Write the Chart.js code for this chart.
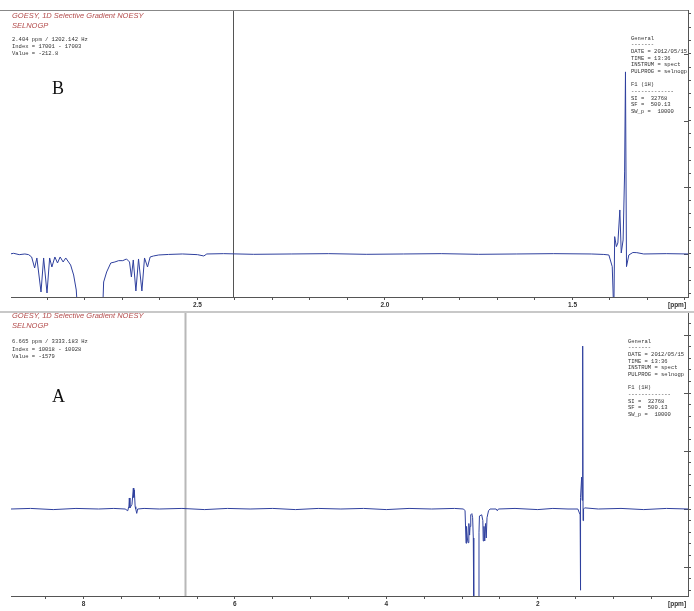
<!DOCTYPE html>
<html>
<head>
<meta charset="utf-8">
<script src="https://cdn.jsdelivr.net/npm/chart.js"></script>
<style>
body { margin: 0; background: #fff; }
#wrap { position: relative; width: 694px; height: 611px; overflow: hidden; background: #fff; }
canvas { position: absolute; left: 0; }
.t { position: absolute; white-space: pre; }
.title { left: 12px; font: italic 7.5px/10px "Liberation Sans", Arial, sans-serif; color: #b34b4b; }
.mono { font: 5.5px/6.65px "Liberation Mono", monospace; color: #333; }
.info { left: 12px; line-height: 7.3px; }
.big { font: 18px/20px "Liberation Serif", serif; color: #111; }
.ppm { font: bold 6.5px/8px "Liberation Sans", sans-serif; color: #333; }
#sep { position: absolute; left: 0; top: 311px; width: 694px; height: 2px; background: #c8c8c8; }
</style>
</head>
<body>
<div id="wrap">
  <canvas id="specB" width="694" height="312" style="top:0"></canvas>
  <div id="sep"></div>
  <canvas id="specA" width="694" height="299" style="top:312px"></canvas>

  <div class="t title" style="top:11px">GOESY, 1D Selective Gradient NOESY
SELNOGP</div>
  <div class="t mono info" style="top:35.7px">2.404 ppm / 1202.142 Hz
Index = 17001 - 17003
Value = -212.8</div>
  <div class="t big" style="left:52px;top:78px">B</div>
  <div class="t mono" style="left:631px;top:35.7px">General
-------
DATE = 2012/05/15
TIME = 13:36
INSTRUM = spect
PULPROG = selnogp

F1 (1H)
-------------
SI =  32768
SF =  500.13
SW_p =  10000</div>
  <div class="t ppm" style="left:668px;top:301px">[ppm]</div>

  <div class="t title" style="top:311px">GOESY, 1D Selective Gradient NOESY
SELNOGP</div>
  <div class="t mono info" style="top:338.4px">6.665 ppm / 3333.183 Hz
Index = 10018 - 10028
Value = -1579</div>
  <div class="t big" style="left:52px;top:386px">A</div>
  <div class="t mono" style="left:628px;top:338.7px">General
-------
DATE = 2012/05/15
TIME = 13:36
INSTRUM = spect
PULPROG = selnogp

F1 (1H)
-------------
SI =  32768
SF =  500.13
SW_p =  10000</div>
  <div class="t ppm" style="left:668px;top:600px">[ppm]</div>
</div>

<script>
// ---------- spectrum B (zoom 3.0 - 1.2 ppm) ----------
const bPpm = [3.00, 2.99, 2.975, 2.96, 2.95, 2.942, 2.934, 2.928, 2.917, 2.910, 2.901, 2.894,
    2.888, 2.880, 2.873, 2.866, 2.858, 2.851, 2.838, 2.830, 2.823, 2.819, 2.81, 2.76, 2.753,
    2.750, 2.742, 2.731, 2.720, 2.710, 2.699, 2.689, 2.681, 2.676, 2.671, 2.664, 2.657, 2.648,
    2.641, 2.633, 2.626, 2.617, 2.603, 2.577, 2.54, 2.50, 2.483, 2.475, 2.43, 2.35, 2.25, 2.15,
    2.05, 1.95, 1.85, 1.75, 1.65, 1.55, 1.45, 1.4165, 1.403, 1.394, 1.3898, 1.3875, 1.383,
    1.379, 1.3737, 1.370, 1.365, 1.361, 1.3587, 1.356, 1.3497, 1.339, 1.3285, 1.31, 1.25, 1.19];
const bInt = [0.00, 0.01, -0.01, 0.00, -0.01, -0.045, -0.21, -0.06, -0.57, -0.06, -0.585, -0.06,
    -0.195, -0.045, -0.135, -0.045, -0.12, -0.06, -0.165, -0.315, -0.54, -0.9, -3.0, -3.0, -0.9,
    -0.42, -0.27, -0.135, -0.12, -0.10, -0.10, -0.075, -0.12, -0.345, -0.09, -0.555, -0.075, -0.555,
    -0.06, -0.195, -0.045, -0.03, -0.015, -0.007, 0.00, -0.01, -0.03, 0.00, 0.005, -0.005, 0.00, 0.005,
    -0.005, 0.00, 0.005, -0.005, 0.00, 0.005, 0.00, -0.007, -0.015, -0.19, -0.9, 0.26, 0.11,
    0.165, 0.66, 0.015, 0.21, 1.23, 2.73, -0.19, -0.015, 0.022, 0.02, 0.00, 0.005, 0.00];

// ---------- spectrum A (full 9 - 0 ppm) ----------
const aPpm = [8.96, 8.7, 8.4, 8.1, 7.8, 7.6, 7.45, 7.416, 7.40, 7.395, 7.387, 7.377, 7.36, 7.342,
    7.336, 7.329, 7.318, 7.31, 7.297, 7.285, 7.2, 7.0, 6.7, 6.4, 6.1, 5.8, 5.5, 5.2, 4.9, 4.6, 4.3,
    4.0, 3.7, 3.4, 3.1, 2.98, 2.96, 2.947, 2.94, 2.93, 2.921, 2.91, 2.90, 2.894, 2.885, 2.87, 2.86,
    2.851, 2.845, 2.78, 2.776, 2.77, 2.74, 2.725, 2.72, 2.71, 2.70, 2.69, 2.68, 2.67, 2.65, 2.63,
    2.55, 2.534, 2.52, 2.3, 2.0, 1.8, 1.6, 1.47, 1.44, 1.437, 1.432, 1.42, 1.413, 1.406, 1.401,
    1.395, 1.38, 1.2, 0.9, 0.6, 0.3, 0.015];
const aInt = [0.00, 0.01, -0.01, 0.01, 0.00, 0.01, 0.00, -0.03, 0.05, 0.19, 0.02, 0.04, 0.08, 0.36,
    0.20, 0.33, 0.04, 0.00, -0.075, 0.00, 0.01, 0.00, 0.01, -0.01, 0.01, 0.00, 0.01, -0.01, 0.01, 0.00, 0.01,
    -0.01, 0.01, 0.00, 0.01, 0.00, -0.03, -0.59, -0.30, -0.50, -0.58, -0.25, -0.45, -0.30, -0.10, -0.08, -0.15,
    -0.50, -1.8, -1.8, -0.40, -0.12, -0.10, -0.20, -0.55, -0.30, -0.55, -0.25, -0.50, -0.15, -0.03, 0.00,
    0.00, -0.03, 0.00, 0.01, -0.01, 0.01, 0.00, 0.00, -0.10, -1.4, 0.20, 0.55, 0.15, 2.81, -0.20,
    0.00, 0.02, 0.00, 0.01, -0.01, 0.01, 0.00];

// cursor positions (ppm)
const cursorB = 2.404;
const cursorA = 6.665;

const axisGrey = "#555";
const lineBlue = "#2f409e";

// cursor line, frame top line and the longer inward major ticks on the right axis
const panelMarks = {
    id: "panelMarks",
    beforeDatasetsDraw(chart, args, opts) {
        const { ctx, chartArea, scales } = chart;
        ctx.save();
        const cx = Math.round(scales.x.getPixelForValue(opts.cursor)) + 0.5;
        ctx.strokeStyle = opts.cursorColor;
        ctx.lineWidth = opts.cursorWidth;
        ctx.beginPath();
        ctx.moveTo(cx, chartArea.top);
        ctx.lineTo(cx, chartArea.bottom);
        ctx.stroke();

        if (opts.topLine) {
            ctx.strokeStyle = "#888";
            ctx.lineWidth = 1;
            ctx.beginPath();
            ctx.moveTo(0, chartArea.top + 0.5);
            ctx.lineTo(chartArea.right, chartArea.top + 0.5);
            ctx.stroke();
        }

        ctx.strokeStyle = axisGrey;
        ctx.lineWidth = 1;
        ctx.beginPath();
        scales.y.ticks.forEach(t => {
            if (Math.abs(t.value - Math.round(t.value)) < 1e-6) {
                const y = Math.round(scales.y.getPixelForValue(t.value)) + 0.5;
                ctx.moveTo(chartArea.right - 4, y);
                ctx.lineTo(chartArea.right, y);
            }
        });
        ctx.stroke();
        ctx.restore();
    }
};

function makeSpectrum(canvasId, ppm, inten, cfg) {
    return new Chart(document.getElementById(canvasId), {
        type: "line",
        data: {
            datasets: [{
                data: ppm.map((p, i) => ({ x: p, y: inten[i] })),
                borderColor: lineBlue,
                borderWidth: 1,
                pointRadius: 0,
                tension: 0,
                fill: false
            }]
        },
        options: {
            responsive: false,
            animation: false,
            events: [],
            layout: { padding: { left: 11, top: cfg.top, right: 0, bottom: 0 } },
            plugins: {
                legend: { display: false },
                tooltip: { enabled: false },
                panelMarks: {
                    cursor: cfg.cursor,
                    cursorColor: cfg.cursorColor,
                    cursorWidth: cfg.cursorWidth,
                    topLine: cfg.topLine
                }
            },
            scales: {
                x: {
                    type: "linear",
                    reverse: true,
                    min: cfg.xMin,
                    max: cfg.xMax,
                    afterFit: s => { s.height = 15; },
                    border: { display: true, color: axisGrey },
                    grid: { drawOnChartArea: false, drawTicks: true, tickLength: 3, color: axisGrey },
                    ticks: {
                        stepSize: cfg.xStep,
                        includeBounds: false,
                        autoSkip: false,
                        maxRotation: 0,
                        padding: 1,
                        color: "#333",
                        font: { family: "Liberation Sans", size: 6.5, weight: "bold" },
                        callback: cfg.xLabel
                    }
                },
                y: {
                    type: "linear",
                    position: "right",
                    min: cfg.yMin,
                    max: cfg.yMax,
                    afterFit: s => { s.width = 6; },
                    border: { display: true, color: axisGrey },
                    grid: { drawOnChartArea: false, drawTicks: true, tickLength: 3, color: axisGrey },
                    ticks: { stepSize: 0.2, includeBounds: false, display: false }
                }
            }
        },
        plugins: [panelMarks]
    });
}

// B: labels every 0.5 ppm, ticks every 0.1
makeSpectrum("specB", bPpm, bInt, {
    top: 10, xMin: 1.192, xMax: 2.997, xStep: 0.1,
    yMin: -0.645, yMax: 3.658,
    cursor: cursorB, cursorColor: "#555", cursorWidth: 1, topLine: true,
    xLabel: v => Math.abs(v * 2 - Math.round(v * 2)) < 1e-6 ? v.toFixed(1) : ""
});

// A: labels every 2 ppm, ticks every 0.5
makeSpectrum("specA", aPpm, aInt, {
    top: 1, xMin: 0.015, xMax: 8.958, xStep: 0.5,
    yMin: -1.5, yMax: 3.38,
    cursor: cursorA, cursorColor: "#b8b8b8", cursorWidth: 2, topLine: false,
    xLabel: v => Math.abs(v / 2 - Math.round(v / 2)) < 1e-6 ? String(Math.round(v)) : ""
});
</script>
</body>
</html>
